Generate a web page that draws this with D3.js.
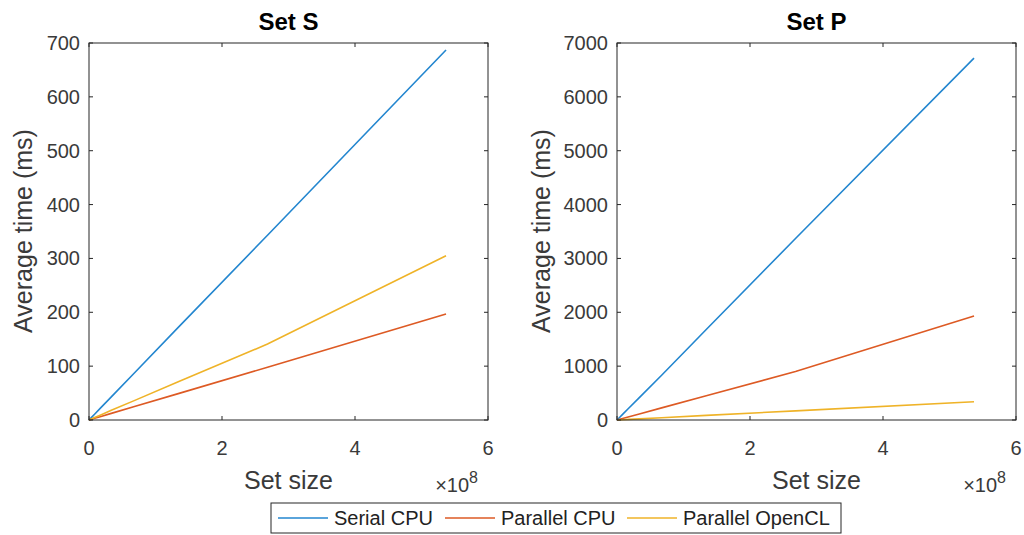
<!DOCTYPE html>
<html>
<head>
<meta charset="utf-8">
<script src="https://cdn.jsdelivr.net/npm/d3@7"></script>
<style>
  body { margin: 0; background: #fff; }
  svg { display: block; font-family: "Liberation Sans", Arial, sans-serif; }
</style>
</head>
<body>
<div id="chart"></div>
<script>
// set sizes (2^22 .. 2^29)
var setSizes = [4194304, 8388608, 16777216, 33554432, 67108864, 134217728, 268435456, 536870912];
var seriesNames = ["Serial CPU", "Parallel CPU", "Parallel OpenCL"];
var colors = ["#2386cf", "#dd5a24", "#efb328"];

// Set S, average time in ms
var setSSerial = [5.4, 10.7, 21.5, 43, 86, 172, 343, 687];
var setSParallel = [1.6, 3.1, 6.2, 12.3, 24.5, 49, 98, 197];
var setSOpenCL = [2.3, 4.5, 9, 18, 35.5, 71, 141, 305];

// Set P, average time in ms
var setPSerial = [52, 104, 208, 415, 830, 1680, 3370, 6720];
var setPParallel = [14, 28, 56, 112, 225, 450, 900, 1930];
var setPOpenCL = [3, 6, 11, 21, 42, 85, 170, 340];

var xTicks = [0, 2, 4, 6];
var ySTicks = [0, 100, 200, 300, 400, 500, 600, 700];
var yPTicks = [0, 1000, 2000, 3000, 4000, 5000, 6000, 7000];

var width = 1024, height = 535;
var svg = d3.select("#chart").append("svg")
    .attr("width", width)
    .attr("height", height);

var axColor = "#262626";
var txtColor = "#3a3a3a";

function drawPanel(left, title, series, yTicks, yMax, labelOffset) {
    var x = d3.scaleLinear().domain([0, 6e8]).range([left, left + 399]);
    var y = d3.scaleLinear().domain([0, yMax]).range([420, 43]);
    var g = svg.append("g");

    // lines
    var line = d3.line()
        .x(function(d) { return x(d[0]); })
        .y(function(d) { return y(d[1]); });
    series.forEach(function(vals, i) {
        var pts = [[0, 0]].concat(setSizes.map(function(s, k) { return [s, vals[k]]; }));
        g.append("path")
            .datum(pts)
            .attr("d", line)
            .attr("fill", "none")
            .attr("stroke", colors[i])
            .attr("stroke-width", 1.6);
    });

    // box
    g.append("rect")
        .attr("x", x(0)).attr("y", y(yMax))
        .attr("width", x(6e8) - x(0)).attr("height", y(0) - y(yMax))
        .attr("fill", "none").attr("stroke", axColor).attr("stroke-width", 1);

    // x ticks (inward, bottom and top)
    xTicks.forEach(function(t) {
        var px = x(t * 1e8);
        g.append("line").attr("x1", px).attr("x2", px).attr("y1", 420).attr("y2", 416)
            .attr("stroke", axColor);
        g.append("line").attr("x1", px).attr("x2", px).attr("y1", 43).attr("y2", 47)
            .attr("stroke", axColor);
        g.append("text").text(t)
            .attr("x", px).attr("y", 455)
            .attr("text-anchor", "middle")
            .attr("font-size", 20).attr("fill", txtColor);
    });

    // y ticks (inward, left and right)
    yTicks.forEach(function(t) {
        var py = y(t);
        g.append("line").attr("x1", x(0)).attr("x2", x(0) + 4).attr("y1", py).attr("y2", py)
            .attr("stroke", axColor);
        g.append("line").attr("x1", x(6e8)).attr("x2", x(6e8) - 4).attr("y1", py).attr("y2", py)
            .attr("stroke", axColor);
        g.append("text").text(t)
            .attr("x", x(0) - 9).attr("y", py + 7)
            .attr("text-anchor", "end")
            .attr("font-size", 20).attr("fill", txtColor);
    });

    // exponent
    var ex = g.append("text")
        .attr("x", x(6e8) - 10).attr("y", 492)
        .attr("text-anchor", "end")
        .attr("font-size", 20).attr("fill", txtColor);
    ex.append("tspan").text("\u00d710");
    ex.append("tspan").text("8").attr("dy", -9).attr("font-size", 16);

    // title
    g.append("text").text(title)
        .attr("x", (x(0) + x(6e8)) / 2).attr("y", 30)
        .attr("text-anchor", "middle")
        .attr("font-size", 24).attr("font-weight", "bold").attr("fill", "#000");

    // axis labels
    g.append("text").text("Set size")
        .attr("x", (x(0) + x(6e8)) / 2).attr("y", 489)
        .attr("text-anchor", "middle")
        .attr("font-size", 25).attr("fill", txtColor);
    g.append("text").text("Average time (ms)")
        .attr("transform", "translate(" + (left - labelOffset) + "," + 231 + ") rotate(-90)")
        .attr("text-anchor", "middle")
        .attr("font-size", 25).attr("fill", txtColor);
}

drawPanel(89, "Set S", [setSSerial, setSParallel, setSOpenCL], ySTicks, 700, 57);
drawPanel(617, "Set P", [setPSerial, setPParallel, setPOpenCL], yPTicks, 7000, 67);

// legend
var legend = svg.append("g");
legend.append("rect")
    .attr("x", 271).attr("y", 503).attr("width", 570).attr("height", 30)
    .attr("fill", "#fff").attr("stroke", axColor).attr("stroke-width", 1);
var legendX = [278, 445, 627];
seriesNames.forEach(function(name, i) {
    legend.append("line")
        .attr("x1", legendX[i]).attr("x2", legendX[i] + 50)
        .attr("y1", 518).attr("y2", 518)
        .attr("stroke", colors[i]).attr("stroke-width", 1.4);
    legend.append("text").text(name)
        .attr("x", legendX[i] + 56).attr("y", 525)
        .attr("font-size", 20).attr("fill", "#222");
});
</script>
</body>
</html>
